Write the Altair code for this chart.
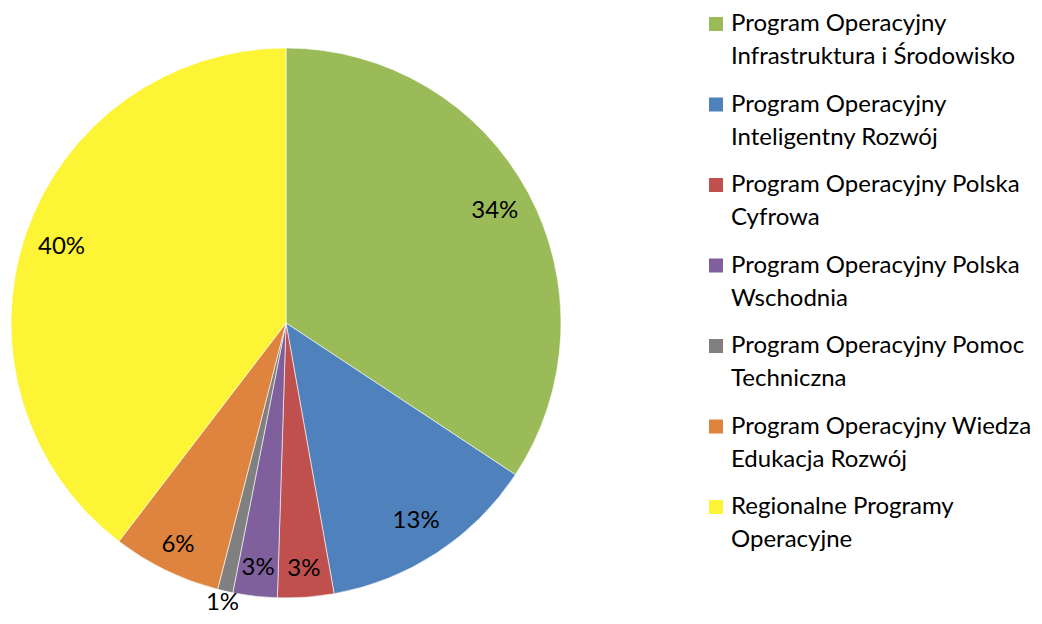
import altair as alt
import pandas as pd

line1 = [
    "Program Operacyjny",
    "Program Operacyjny",
    "Program Operacyjny Polska",
    "Program Operacyjny Polska",
    "Program Operacyjny Pomoc",
    "Program Operacyjny Wiedza",
    "Regionalne Programy",
]
line2 = [
    "Infrastruktura i Środowisko",
    "Inteligentny Rozwój",
    "Cyfrowa",
    "Wschodnia",
    "Techniczna",
    "Edukacja Rozwój",
    "Operacyjne",
]
shares = [34.3, 12.9, 3.3, 2.6, 0.9, 6.4, 39.6]
colors = ["#9BBB59", "#4F81BD", "#C0504D", "#7F5F9C", "#808080", "#DE843F", "#FDF435"]
order = list(range(len(shares)))

df = pd.DataFrame({"idx": order, "line1": line1, "line2": line2, "share": shares})
df["category"] = df["line1"] + " " + df["line2"]

FONT = "Lato"
FS = 24
CX, CY, R = 278, 315, 275

color_scale = alt.Scale(domain=df["category"].tolist(), range=colors)
base = alt.Chart(df)

pie = base.mark_arc(outerRadius=R, stroke="white", strokeWidth=0.6).encode(
    theta=alt.Theta("share:Q", stack=True),
    order=alt.Order("idx:Q"),
    color=alt.Color("category:N", scale=color_scale, legend=None),
    x=alt.value(CX),
    y=alt.value(CY),
)

lab_base = base.transform_joinaggregate(total="sum(share)").transform_calculate(
    pct="datum.share / datum.total",
)


def label_layer(test, radius):
    return lab_base.mark_text(
        font=FONT, fontSize=FS, color="black", align="center", baseline="middle"
    ).encode(
        theta=alt.Theta("share:Q", stack=True),
        order=alt.Order("idx:Q"),
        radius=alt.value(radius),
        text=alt.condition(test, alt.Text("pct:Q", format=".0%"), alt.value("")),
        x=alt.value(CX),
        y=alt.value(CY),
    )


lab_small = label_layer("datum.share < 2", 287)
lab_mid = label_layer("datum.share >= 2 && datum.share < 10", 247)
lab_big = label_layer("datum.share >= 10", 237)

yscale = alt.Scale(domain=[0, 6], range=[16, 499])

leg_sq = base.mark_square(size=196, opacity=1).encode(
    x=alt.value(708),
    y=alt.Y("idx:Q", scale=yscale, axis=None),
    color=alt.Color("category:N", scale=color_scale, legend=None),
)

leg_t1 = base.mark_text(font=FONT, fontSize=FS, color="black", align="left", baseline="middle").encode(
    x=alt.value(723),
    y=alt.Y("idx:Q", scale=yscale, axis=None),
    text="line1:N",
)
leg_t2 = base.mark_text(font=FONT, fontSize=FS, color="black", align="left", baseline="middle", dy=33).encode(
    x=alt.value(723),
    y=alt.Y("idx:Q", scale=yscale, axis=None),
    text="line2:N",
)

chart = alt.layer(pie, lab_small, lab_mid, lab_big, leg_sq, leg_t1, leg_t2).properties(
    width=1026, height=608, autosize=alt.AutoSizeParams(type="none"), padding=0
).configure_view(stroke=None)

chart.save("out.html", embed_options={"renderer": "svg", "actions": False})
